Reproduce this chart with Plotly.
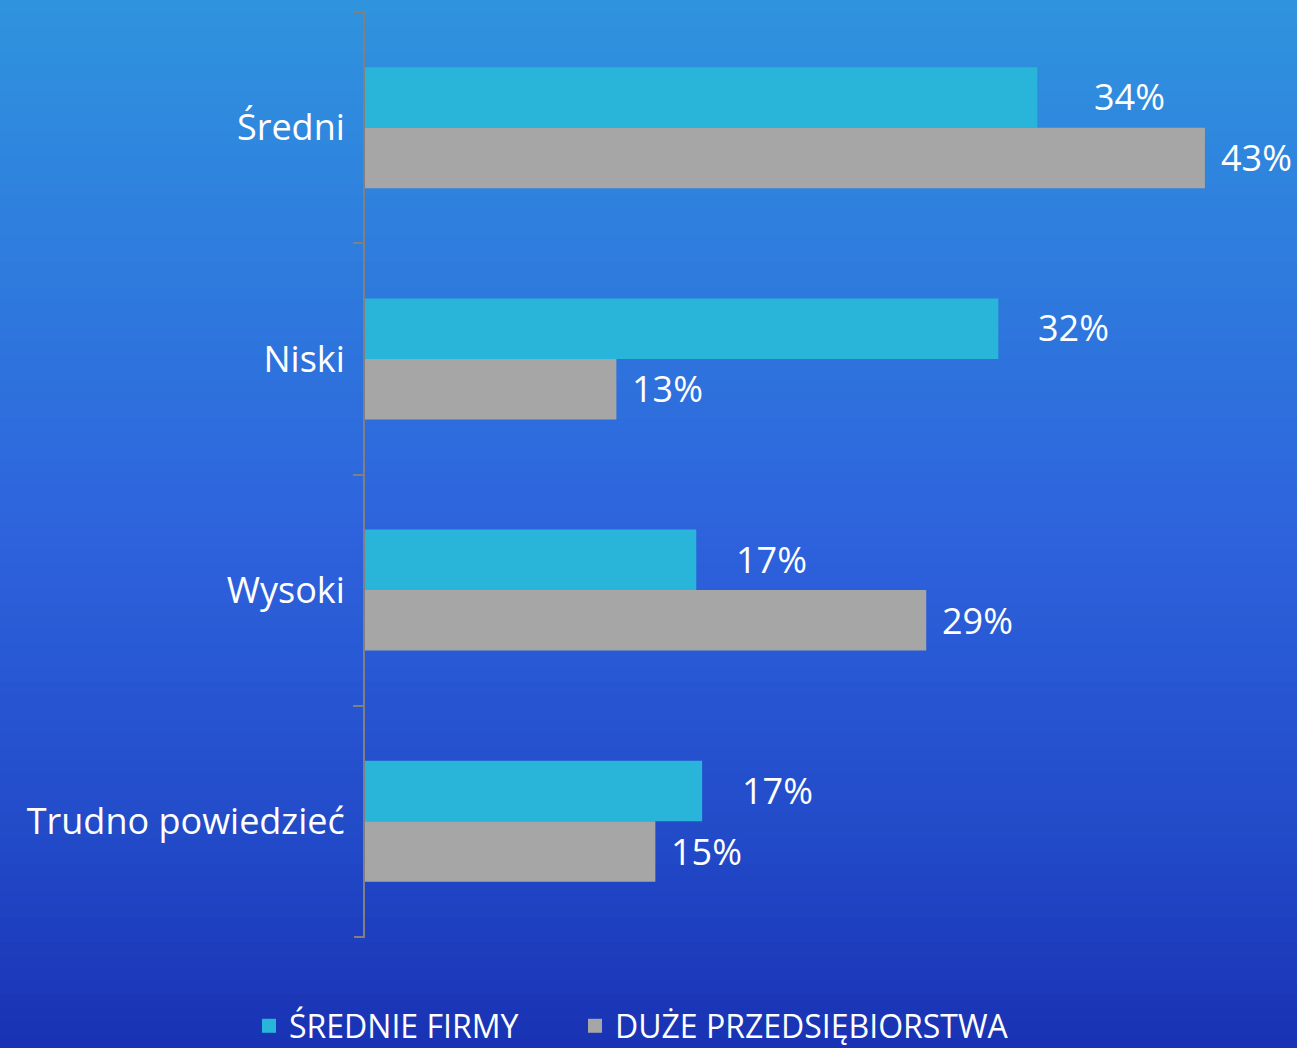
import plotly.graph_objects as go

categories = ["Średni", "Niski", "Wysoki", "Trudno powiedzieć"]
series_names = ["ŚREDNIE FIRMY", "DUŻE PRZEDSIĘBIORSTWA"]
srednie_values = [34.5, 32.5, 17.0, 17.3]
duze_values = [43.1, 12.9, 28.8, 14.9]
srednie_labels = ["34%", "32%", "17%", "17%"]
duze_labels = ["43%", "13%", "29%", "15%"]

W, H = 1297, 1048
M_L, M_R, M_T, M_B = 365, 20, 12, 111
PLOT_W = W - M_L - M_R
PLOT_H = H - M_T - M_B

CYAN = "#29B5D9"
GRAY = "#A6A6A6"
AXIS = "#808080"
FONT = "Open Sans"

fig = go.Figure()
fig.add_trace(go.Bar(y=categories, x=srednie_values, name=series_names[0], showlegend=False,
                     orientation="h", marker=dict(color=CYAN, line=dict(width=0))))
fig.add_trace(go.Bar(y=categories, x=duze_values, name=series_names[1], showlegend=False,
                     orientation="h", marker=dict(color=GRAY, line=dict(width=0))))

# legend entries (square swatches), one legend per series so they can be placed like the original
for name, color, leg in [(series_names[0], CYAN, "legend"), (series_names[1], GRAY, "legend2")]:
    fig.add_trace(go.Scatter(x=[None], y=[None], name=name, mode="markers", legend=leg,
                             marker=dict(symbol="square", size=14, color=color)))

# value labels
cyan_shift = [55, 38, 38, 38]
for i, cat in enumerate(categories):
    fig.add_annotation(x=srednie_values[i], y=cat, text=srednie_labels[i], showarrow=False,
                       xanchor="left", yanchor="middle", xshift=cyan_shift[i], yshift=31,
                       font=dict(family=FONT, size=36, color="white"))
    fig.add_annotation(x=duze_values[i], y=cat, text=duze_labels[i], showarrow=False,
                       xanchor="left", yanchor="middle", xshift=14, yshift=-30,
                       font=dict(family=FONT, size=36, color="white"))

# vertical gradient background made of thin strips
stops = [(0.0, (47, 148, 222)), (0.5, (46, 100, 221)), (0.8, (34, 74, 200)), (1.0, (25, 50, 180))]


def grad(t):
    for (t0, c0), (t1, c1) in zip(stops, stops[1:]):
        if t <= t1:
            f = (t - t0) / (t1 - t0)
            return "rgb(%d,%d,%d)" % tuple(round(a + (b - a) * f) for a, b in zip(c0, c1))
    return "rgb(%d,%d,%d)" % stops[-1][1]


n = 80
shapes = []
for k in range(n):
    top_px = H * k / n
    bot_px = H * (k + 1) / n + 1
    y1 = (H - M_B - top_px) / PLOT_H
    y0 = (H - M_B - bot_px) / PLOT_H
    shapes.append(dict(type="rect", xref="paper", yref="paper", x0=-1, x1=2, y0=y0, y1=y1,
                       fillcolor=grad((k + 0.5) / n), line=dict(width=0), layer="below"))

# end ticks at the top and bottom of the category axis
for yy in (0, 1):
    shapes.append(dict(type="line", xref="paper", yref="paper", x0=-11 / PLOT_W, x1=0,
                       y0=yy, y1=yy, line=dict(color=AXIS, width=2)))

legend_common = dict(orientation="h", xref="container", yref="container",
                     xanchor="left", y=0.021, yanchor="middle",
                     font=dict(family=FONT, size=32, color="white"),
                     bgcolor="rgba(0,0,0,0)")

fig.update_layout(
    width=W, height=H,
    margin=dict(l=M_L, r=M_R, t=M_T, b=M_B),
    paper_bgcolor="rgb(35,90,210)",
    plot_bgcolor="rgba(0,0,0,0)",
    shapes=shapes,
    barmode="group",
    bargap=0.476,
    bargroupgap=0,
    font=dict(family=FONT, color="white"),
    showlegend=True,
    legend=dict(x=249 / W, **legend_common),
    legend2=dict(x=575 / W, **legend_common),
    xaxis=dict(range=[0, 46.8], showgrid=False, zeroline=False, showticklabels=False,
               showline=False, ticks=""),
    yaxis=dict(range=[3.501, -0.501], showgrid=False, zeroline=False,
               showline=True, linecolor=AXIS, linewidth=2,
               ticks="outside", tickson="boundaries", ticklen=10, tickwidth=2,
               tickcolor=AXIS, ticklabelstandoff=11,
               tickfont=dict(family=FONT, size=36, color="white")),
)

fig.write_html("out.html", config={"displayModeBar": False},
               post_script="document.body.style.margin='0';")
